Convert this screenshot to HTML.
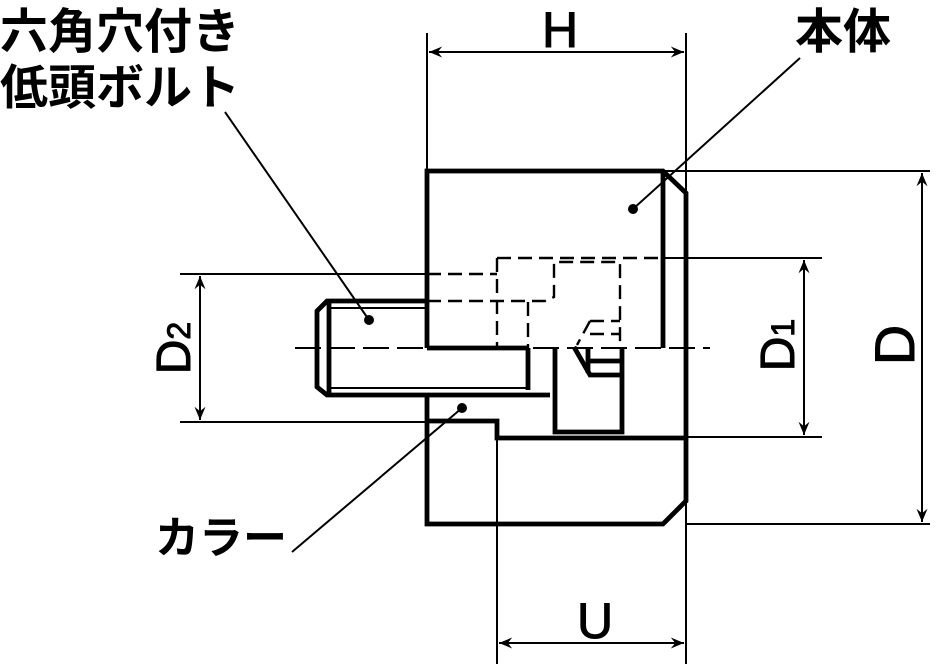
<!DOCTYPE html>
<html><head><meta charset="utf-8"><style>
html,body{margin:0;padding:0;background:#fff}
svg{display:block}
text{font-family:"Liberation Sans","Noto Sans CJK JP",sans-serif;fill:#000}
</style></head><body>
<svg width="943" height="664" viewBox="0 0 943 664" xmlns="http://www.w3.org/2000/svg">
<defs>
<marker id="a" viewBox="0 0 12 10" refX="12" refY="5" markerWidth="14" markerHeight="11" orient="auto-start-reverse" markerUnits="userSpaceOnUse">
<path d="M0,0 L12,5 L0,10 L4,5 Z" fill="#000"/>
</marker>
</defs>
<g stroke="#000" stroke-width="2" fill="none">
<line x1="427" y1="33" x2="427" y2="171"/>
<line x1="686" y1="33" x2="686" y2="664"/>
<line x1="497" y1="438" x2="497" y2="664"/>
<line x1="663" y1="171" x2="930" y2="171"/>
<line x1="686" y1="524" x2="930" y2="524"/>
<line x1="663" y1="258" x2="822" y2="258"/>
<line x1="686" y1="437" x2="822" y2="437"/>
<line x1="180" y1="274" x2="427" y2="274"/>
<line x1="180" y1="422" x2="427" y2="422"/>
<line x1="429" y1="52" x2="684" y2="52" marker-start="url(#a)" marker-end="url(#a)"/>
<line x1="499" y1="643" x2="684" y2="643" marker-start="url(#a)" marker-end="url(#a)"/>
<line x1="922" y1="173" x2="922" y2="522" marker-start="url(#a)" marker-end="url(#a)"/>
<line x1="804" y1="260" x2="804" y2="435" marker-start="url(#a)" marker-end="url(#a)"/>
<line x1="200" y1="276" x2="200" y2="420" marker-start="url(#a)" marker-end="url(#a)"/>
<line x1="225" y1="112" x2="369" y2="320"/>
<line x1="800" y1="58" x2="633" y2="209"/>
<line x1="292" y1="552" x2="462" y2="408"/>
<line x1="295" y1="348" x2="710" y2="348" stroke-dasharray="26,8"/>
<line x1="329" y1="308" x2="427" y2="308"/>
<line x1="329" y1="388" x2="528" y2="388"/>
</g>
<g fill="#000">
<circle cx="369" cy="320" r="5"/>
<circle cx="633" cy="209" r="5"/>
<circle cx="462" cy="408" r="5"/>
</g>
<g stroke="#000" stroke-width="2.4" fill="none" stroke-dasharray="14,7">
<line x1="427" y1="274" x2="497" y2="274"/>
<line x1="497" y1="258" x2="663" y2="258"/>
<line x1="497" y1="258" x2="497" y2="348"/>
<polyline points="427,301 545,301 554,297 554,262 620,262 620,348"/>
<line x1="528" y1="302" x2="528" y2="348"/>
<line x1="590" y1="321" x2="620" y2="321"/>
<line x1="590" y1="334" x2="620" y2="334"/>
<line x1="590" y1="321" x2="577" y2="345"/>
</g>
<g stroke="#000" stroke-width="4.8" fill="none" stroke-linejoin="miter">
<polyline points="427,348 427,171 663,171 686,193 686,501 663,524 427,524 427,395"/>
<line x1="663" y1="171" x2="663" y2="348"/>
<line x1="427" y1="348" x2="528" y2="348"/>
<polyline points="528,348 528,390"/>
<polyline points="427,421 497,421 497,438 686,438"/>
<polyline points="555,348 555,432 622,432 622,348"/>
<polyline points="574,347 590,375 620,375"/>
<line x1="588" y1="361" x2="620" y2="361"/>
<line x1="588" y1="348" x2="588" y2="373"/>
<polyline points="427,301 327,301 317,311 317,387 327,395 550,395"/>
<line x1="329" y1="301" x2="329" y2="395"/>
</g>
<text x="0" y="48" font-size="48" font-weight="bold">六角穴付き</text>
<text x="0" y="104" font-size="48" font-weight="bold">低頭ボルト</text>
<text x="795" y="48" font-size="48" font-weight="bold">本体</text>
<text x="155" y="553" font-size="44" font-weight="bold">カラー</text>
<text x="560" y="47" font-size="50" text-anchor="middle" stroke="#000" stroke-width="1">H</text>
<text x="595" y="638" font-size="50" text-anchor="middle" stroke="#000" stroke-width="1">U</text>
<text transform="translate(914,345) rotate(-90)" font-size="56" text-anchor="middle" stroke="#000" stroke-width="1">D</text>
<text transform="translate(794,345) rotate(-90)" font-size="48" text-anchor="middle" stroke="#000" stroke-width="1">D<tspan font-size="32">1</tspan></text>
<text transform="translate(190,348) rotate(-90)" font-size="48" text-anchor="middle" stroke="#000" stroke-width="1">D<tspan font-size="32">2</tspan></text>
</svg>
</body></html>
